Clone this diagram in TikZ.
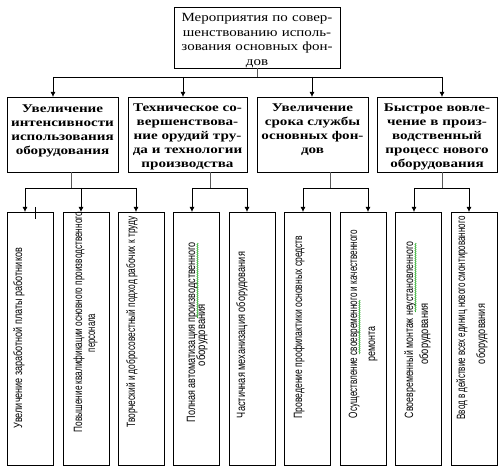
\documentclass[tikz,border=0pt]{standalone}
\usepackage{fontspec}
\usepackage{graphicx}
\setmainfont{Liberation Serif}
\newfontfamily\hfont[FakeStretch=1.2]{Liberation Serif}
\newfontfamily\bfont[FakeStretch=1.28]{Liberation Serif Bold}
\newfontfamily\vfont{Liberation Sans}
\newcommand{\fitw}[2]{\resizebox{#1pt}{\height}{#2}}
\usetikzlibrary{arrows.meta,decorations.pathmorphing}
\begin{document}
\begin{tikzpicture}[x=1pt,y=-1pt,line width=0.8pt,
  box/.style={draw=black,inner sep=0pt,outer sep=0pt},
  topbox/.style={box,minimum width=166pt,minimum height=61pt},
  midbox/.style={box,minimum height=75pt},
  lowbox/.style={box,minimum width=46pt,minimum height=253pt},
  toptext/.style={font=\hfont\fontsize{12.5}{14.4}\selectfont,align=center,text width=170pt,inner sep=0pt,anchor=base},
  midtext/.style={font=\bfont\fontsize{11.8}{14}\selectfont,align=center,text width=125pt,inner sep=0pt,anchor=base},
  vt/.style={rotate=90,anchor=base,inner sep=0pt,font=\vfont\fontsize{12}{13}\selectfont},
  arr/.style={-{Latex[length=5pt,width=5pt]},black},
  stem/.style={draw=gray!70!black},
  bar/.style={draw=black},
  spell/.style={draw=green!60!black,line width=0.5pt,decorate,decoration={snake,amplitude=0.6pt,segment length=2pt}}]
\useasboundingbox (0,0) rectangle (503,470);
% boxes
\node[topbox] (top) at (257,37.5) {};
\node[midbox,minimum width=111pt] (B1) at (62.5,134.5) {};
\node[midbox,minimum width=119pt] (B2) at (187.5,134.5) {};
\node[midbox,minimum width=111pt] (B3) at (312.5,134.5) {};
\node[midbox,minimum width=120pt] (B4) at (437,134.5) {};
\node[lowbox] (La) at (30,338.5) {};
\node[lowbox] (Lb) at (86,338.5) {};
\node[lowbox] (Lc) at (141,338.5) {};
\node[lowbox] (Ld) at (196.5,338.5) {};
\node[lowbox] (Le) at (252,338.5) {};
\node[lowbox] (Lf) at (307.5,338.5) {};
\node[lowbox] (Lg) at (363.5,338.5) {};
\node[lowbox] (Lh) at (418.5,338.5) {};
\node[lowbox] (Li) at (474,338.5) {};
% texts
\node[toptext] (toptxt) at (257,22) {Мероприятия по совер-\\шенствованию исполь-\\зования основных фон-\\дов};
\node[midtext] (t1) at (62.5,113) {Увеличение\\интенсивности\\использования\\оборудования};
\node[midtext] (t2) at (187.5,112) {Техническое со-\\вершенствова-\\ние орудий тру-\\да и технологии\\производства};
\node[midtext] (t3) at (312.5,112) {Увеличение\\срока службы\\основных фон-\\дов};
\node[midtext] (t4) at (437,112) {Быстрое вовле-\\чение в произ-\\водственный\\процесс нового\\оборудования};
\node[vt] (va) at (22,338) {\fitw{180}{Увеличение заработной платы работников}};
\node[vt] (vb1) at (82,322) {\fitw{220}{Повышение квалификации основного производственного}};
\node[vt] (vb2) at (95,333) {\fitw{38}{персонала}};
\node[vt] (vc) at (135,322) {\fitw{211}{Творческий и добросовестный подход рабочих к труду}};
\node[vt] (vd1) at (195,332) {\fitw{180}{Полная автоматизация производственного}};
\node[vt] (vd2) at (205,335) {\fitw{62}{оборудования}};
\node[vt] (ve) at (245,335) {\fitw{166}{Частичная механизация оборудования}};
\node[vt] (vf) at (302,327) {\fitw{183}{Проведение профилактики основных средств}};
\node[vt] (vg1) at (357,324) {\fitw{188}{Осуществление своевременного и качественного}};
\node[vt] (vg2) at (375,344) {\fitw{35}{ремонта}};
\node[vt] (vh1) at (413,330) {\fitw{176}{Своевременный монтаж неустановленного}};
\node[vt] (vh2) at (428,334) {\fitw{61}{оборудования}};
\node[vt] (vi1) at (465,318) {\fitw{203}{Ввод в действие всех единиц нового смонтированного}};
\node[vt] (vi2) at (485,334) {\fitw{60}{оборудования}};
% spell-check marks
\coordinate (gd1) at (197.5,243); \coordinate (gd2) at (197.5,318);
\coordinate (gg1) at (359.5,300); \coordinate (gg2) at (359.5,354);
\coordinate (gh1) at (415.5,243); \coordinate (gh2) at (415.5,312);
\draw[spell] (gd1) -- (gd2);
\draw[spell] (gg1) -- (gg2);
\draw[spell] (gh1) -- (gh2);
% level 1 connectors
\coordinate (j0) at (257,77);
\coordinate (h1) at (53,77);
\coordinate (h2) at (183,77);
\coordinate (h3) at (312,77);
\coordinate (h4) at (442,77);
\draw[stem] (top.south) -- (j0);
\draw[bar] (h1) -- (h4);
\draw[arr] (h1) -- (B1.north -| h1);
\draw[arr] (h2) -- (B2.north -| h2);
\draw[arr] (h3) -- (B3.north -| h3);
\draw[arr] (h4) -- (B4.north -| h4);
% level 2 connectors
\coordinate (s1) at (71,188);
\coordinate (s2) at (210,188);
\coordinate (s3) at (330,188);
\coordinate (s4) at (442,188);
\coordinate (ka) at (25,188);
\coordinate (kb) at (81,188);
\coordinate (kc) at (136,188);
\coordinate (kd) at (192,188);
\coordinate (ke) at (247,188);
\coordinate (kf) at (303,188);
\coordinate (kg) at (368,188);
\coordinate (kh) at (414,188);
\coordinate (ki) at (469,188);
\draw[stem] (B1.south -| s1) -- (s1);
\draw[stem] (B2.south -| s2) -- (s2);
\draw[stem] (B3.south -| s3) -- (s3);
\draw[stem] (B4.south -| s4) -- (s4);
\draw[bar] (ka) -- (kc);
\draw[bar] (kd) -- (ke);
\draw[bar] (kf) -- (kg);
\draw[bar] (kh) -- (ki);
\draw[arr] (ka) -- (La.north -| ka);
\draw[arr] (kb) -- (Lb.north -| kb);
\draw[arr] (kc) -- (Lc.north -| kc);
\draw[arr] (kd) -- (Ld.north -| kd);
\draw[arr] (ke) -- (Le.north -| ke);
\draw[arr] (kf) -- (Lf.north -| kf);
\draw[arr] (kg) -- (Lg.north -| kg);
\draw[arr] (kh) -- (Lh.north -| kh);
\draw[arr] (ki) -- (Li.north -| ki);
% small tick
\coordinate (m1) at (35,207);
\coordinate (m2) at (35,219);
\draw[bar] (m1) -- (m2);
\end{tikzpicture}
\end{document}
